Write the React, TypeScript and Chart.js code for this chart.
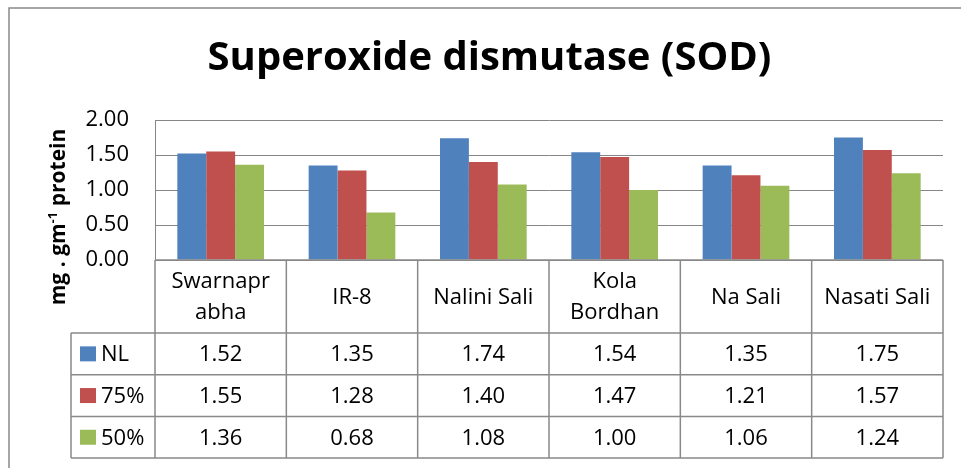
import React, { useEffect, useRef } from 'react';
import { Chart, registerables } from 'chart.js';

Chart.register(...registerables);

const categories: string[][] = [
  ['Swarnapr', 'abha'],
  ['IR-8'],
  ['Nalini Sali'],
  ['Kola', 'Bordhan'],
  ['Na Sali'],
  ['Nasati Sali'],
];
const seriesNames = ['NL', '75%', '50%'];
const nlValues = [1.52, 1.35, 1.74, 1.54, 1.35, 1.75];
const p75Values = [1.55, 1.28, 1.4, 1.47, 1.21, 1.57];
const p50Values = [1.36, 0.68, 1.08, 1.0, 1.06, 1.24];
const yTickValues = [0, 0.5, 1, 1.5, 2];
const seriesColors = ['#4F81BD', '#C0504D', '#9BBB59'];
const titleText = 'Superoxide dismutase (SOD)';
const yTitleMain = 'mg . gm';
const yTitleSup = '-1';
const yTitleRest = ' protein';

const FONT = '"Open Sans", "DejaVu Sans", sans-serif';
const LINE = '#898989';

const borderPlugin = {
  id: 'outerBorder',
  beforeDraw(chart: any) {
    const ctx = chart.ctx;
    ctx.save();
    ctx.strokeStyle = LINE;
    ctx.lineWidth = 1.5;
    ctx.beginPath();
    ctx.moveTo(9, chart.height + 5);
    ctx.lineTo(9, 8);
    ctx.lineTo(chart.width + 5, 8);
    ctx.stroke();
    ctx.restore();
  },
};

const yTitlePlugin = {
  id: 'yTitle',
  afterDraw(chart: any) {
    const ctx = chart.ctx;
    ctx.save();
    ctx.fillStyle = '#000';
    ctx.textBaseline = 'alphabetic';
    const mainFont = `bold 21px ${FONT}`;
    const supFont = `bold 13px ${FONT}`;
    ctx.font = mainFont;
    const w1 = ctx.measureText(yTitleMain).width;
    const w3 = ctx.measureText(yTitleRest).width;
    ctx.font = supFont;
    const w2 = ctx.measureText(yTitleSup).width;
    const total = w1 + w2 + w3;
    ctx.translate(65, 217);
    ctx.rotate(-Math.PI / 2);
    let x = -total / 2;
    ctx.textAlign = 'left';
    ctx.font = mainFont;
    ctx.fillText(yTitleMain, x, 0);
    x += w1;
    ctx.font = supFont;
    ctx.fillText(yTitleSup, x, -8);
    x += w2;
    ctx.font = mainFont;
    ctx.fillText(yTitleRest, x, 0);
    ctx.restore();
  },
};

const tablePlugin = {
  id: 'dataTable',
  afterDraw(chart: any) {
    const ctx = chart.ctx;
    const area = chart.chartArea;
    const xScale = chart.scales.x;
    const n = categories.length;
    const cw = (area.right - area.left) / n;
    const top = area.bottom;
    const headerBottom = top + 73;
    const rowH = 41.7;
    const legendLeft = 71;
    const tableBottom = headerBottom + rowH * seriesNames.length;
    const values = [nlValues, p75Values, p50Values];

    ctx.save();
    ctx.strokeStyle = LINE;
    ctx.lineWidth = 1.5;
    ctx.beginPath();
    ctx.moveTo(area.left, top);
    ctx.lineTo(area.right, top);
    for (let i = 0; i <= n; i++) {
      const x = area.left + i * cw;
      ctx.moveTo(x, top);
      ctx.lineTo(x, tableBottom);
    }
    ctx.moveTo(legendLeft, headerBottom);
    ctx.lineTo(legendLeft, tableBottom);
    for (let r = 0; r <= seriesNames.length; r++) {
      const y = headerBottom + r * rowH;
      ctx.moveTo(legendLeft, y);
      ctx.lineTo(area.right, y);
    }
    ctx.stroke();

    ctx.fillStyle = '#000';
    ctx.font = `22px ${FONT}`;
    ctx.textAlign = 'center';
    ctx.textBaseline = 'middle';
    const headerMid = (top + headerBottom) / 2;
    const lineGap = 31;
    categories.forEach((lines, i) => {
      const cx = xScale.getPixelForValue(i);
      const start = headerMid - ((lines.length - 1) * lineGap) / 2;
      lines.forEach((ln, k) => {
        ctx.fillText(ln, cx, start + k * lineGap + 1);
      });
    });

    values.forEach((vals, r) => {
      const cy = headerBottom + r * rowH + rowH / 2;
      ctx.fillStyle = seriesColors[r];
      ctx.fillRect(80, cy - 7.5, 16, 15);
      ctx.fillStyle = '#000';
      ctx.textAlign = 'left';
      ctx.fillText(seriesNames[r], 101, cy + 1);
      ctx.textAlign = 'center';
      vals.forEach((v, i) => {
        const cx = xScale.getPixelForValue(i);
        ctx.fillText(v.toFixed(2), cx, cy + 1);
      });
    });
    ctx.restore();
  },
};

export default function App() {
  const canvasRef = useRef<HTMLCanvasElement | null>(null);

  useEffect(() => {
    if (!canvasRef.current) return;
    const chart = new Chart(canvasRef.current, {
      type: 'bar',
      data: {
        labels: categories.map((c) => c.join(' ')),
        datasets: [nlValues, p75Values, p50Values].map((vals, i) => ({
          label: seriesNames[i],
          data: vals,
          backgroundColor: seriesColors[i],
          borderWidth: 0,
          categoryPercentage: 0.66,
          barPercentage: 1.0,
        })),
      },
      options: {
        animation: false,
        responsive: false,
        maintainAspectRatio: false,
        layout: { padding: { left: 36, right: 18, top: 0, bottom: 208 } },
        plugins: {
          legend: { display: false },
          tooltip: { enabled: false },
          title: {
            display: true,
            text: titleText,
            color: '#000',
            font: { family: FONT, size: 40, weight: 'bold' },
            padding: { top: 35, bottom: 37 },
          },
        },
        scales: {
          x: { display: false },
          y: {
            min: 0,
            max: 2,
            afterBuildTicks: (scale: any) => {
              scale.ticks = yTickValues.map((v) => ({ value: v }));
            },
            afterFit: (scale: any) => {
              scale.width = 119;
            },
            ticks: {
              padding: 26,
              color: '#000',
              font: { family: FONT, size: 22 },
              callback: (v: any) => Number(v).toFixed(2),
            },
            grid: { color: '#868686', drawTicks: false, lineWidth: 1 },
            border: { display: true, color: '#868686', width: 1 },
          },
        },
      },
      plugins: [borderPlugin, yTitlePlugin, tablePlugin],
    });
    return () => chart.destroy();
  }, []);

  return (
    <div style={{ position: 'fixed', left: 0, top: 0, width: 961, height: 468, background: '#fff' }}>
      <canvas ref={canvasRef} width={961} height={468} style={{ width: 961, height: 468, display: 'block' }} />
    </div>
  );
}
